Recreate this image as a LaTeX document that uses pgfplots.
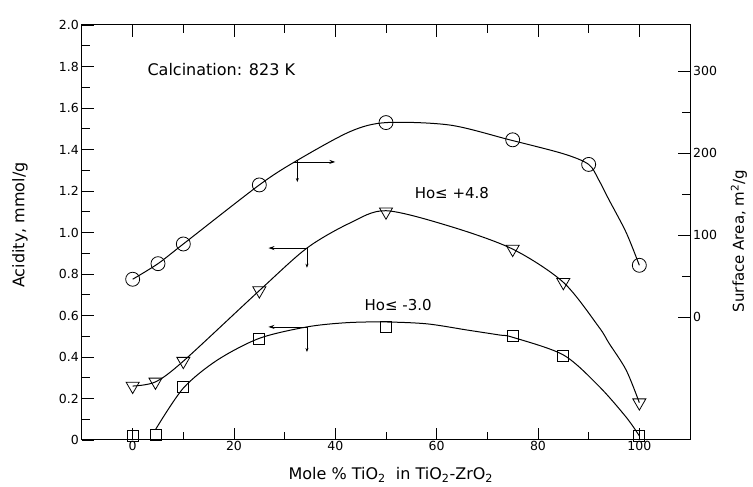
\documentclass[border=0pt]{standalone}
\usepackage{pgfplots}
\pgfplotsset{compat=1.18}
\usepackage{fontspec}
\setmainfont{DejaVu Sans}
\usetikzlibrary{arrows.meta}

% acidity (left axis)
\pgfplotstableread{
x y
0 0.26
4.5 0.28
10 0.38
25 0.72
50 1.10
75 0.92
85 0.76
100 0.18
}\triA
\pgfplotstableread{
x y
0 0.02
4.5 0.025
10 0.255
25 0.487
50 0.545
75 0.50
85 0.405
100 0.02
}\sqA
% surface area (right axis)
\pgfplotstableread{
x y
0 46
5 65
10 89
25 161
50 237
75 216
90 186
100 63
}\circS

\begin{document}
\begin{tikzpicture}[x=1pt,y=1pt]
\useasboundingbox (-82,-47) rectangle (671,440);
\begin{axis}[
  at={(0,0)}, anchor=south west,
  scale only axis, width=608pt, height=415pt,
  xmin=-10, xmax=110, ymin=0, ymax=2,
  xtick={0,20,...,100}, xticklabels={0,20,40,60,80,100},
  minor xtick={10,30,...,90},
  ytick={0,0.2,...,2.0},
  yticklabels={0,0.2,0.4,0.6,0.8,1.0,1.2,1.4,1.6,1.8,2.0},
  minor ytick={0.1,0.3,...,1.9},
  ytick pos=left, xtick pos=both, xticklabel pos=bottom,
  tick align=inside,
  major tick length=12pt, minor tick length=8pt,
  axis line style={line width=1pt},
  every tick/.style={line width=0.8pt, black},
  ticklabel style={font=\fontsize{12.5}{14}\selectfont},
  xticklabel style={inner sep=1pt},
  yticklabel style={inner sep=3pt},
  label style={font=\fontsize{16}{19}\selectfont},
  xlabel={Mole \% TiO\textsubscript{2}\ \ in TiO\textsubscript{2}-ZrO\textsubscript{2}},
  xlabel style={at={(axis description cs:0.508,-0.084)}, anchor=center},
  ylabel={Acidity, mmol/g},
  ylabel style={at={(axis description cs:-0.102,0.518)}, anchor=center},
]
% Ho <= +4.8
\addplot[smooth, line width=1pt, tension=0.5] coordinates {
  (0,0.26) (4.5,0.28) (10,0.38) (25,0.72) (34.4,0.925) (42.9,1.046)
  (50,1.105) (62.6,1.03) (75,0.92) (85,0.76) (92,0.545) (94,0.467)
  (97.4,0.337) (100,0.18)};
% Ho <= -3.0
\addplot[smooth, line width=1pt, tension=0.5] coordinates {
  (4.5,0.05) (10,0.25) (16.7,0.385) (25,0.49) (34.4,0.545) (42,0.565)
  (49.4,0.569) (58,0.56) (66,0.53) (72.4,0.506) (75,0.495) (85,0.41)
  (92,0.26) (97.4,0.11) (100,0.02)};
\addplot[only marks, mark=triangle, mark size=7.5pt,
  mark options={rotate=180, fill=white, line width=0.8pt}] table {\triA};
\addplot[only marks, mark=square, mark size=5.5pt,
  mark options={fill=white, line width=0.8pt}] table {\sqA};
% axis indicators
\draw[line width=0.8pt, -{Stealth[length=6pt,width=4pt]}] (axis cs:31.7,1.34) -- (axis cs:40,1.34);
\draw[line width=0.8pt, -{Stealth[length=4pt,width=3pt]}] (axis cs:32.5,1.35) -- (axis cs:32.5,1.243);
\draw[line width=0.8pt, -{Stealth[length=6pt,width=4pt]}] (axis cs:34.4,0.925) -- (axis cs:26.8,0.925);
\draw[line width=0.8pt, -{Stealth[length=4pt,width=3pt]}] (axis cs:34.4,0.925) -- (axis cs:34.4,0.83);
\draw[line width=0.8pt, -{Stealth[length=6pt,width=4pt]}] (axis cs:34.4,0.545) -- (axis cs:26.8,0.545);
\draw[line width=0.8pt, -{Stealth[length=4pt,width=3pt]}] (axis cs:34.4,0.545) -- (axis cs:34.4,0.424);
\node[font=\fontsize{16}{19}\selectfont] at (axis cs:17.5,1.783) {Calcination: 823 K};
\node[font=\fontsize{15}{18}\selectfont] at (axis cs:63,1.19) {Ho≤ +4.8};
\node[font=\fontsize{15}{18}\selectfont] at (axis cs:52.4,0.65) {Ho≤ -3.0};
\end{axis}
\begin{axis}[
  at={(0,0)}, anchor=south west,
  scale only axis, width=608pt, height=415pt,
  xmin=-10, xmax=110, ymin=-150, ymax=356,
  axis x line=none, axis y line*=right,
  ytick={0,100,200,300}, minor ytick={50,150,250},
  tick align=inside,
  major tick length=12pt, minor tick length=8pt,
  axis line style={line width=1pt},
  every tick/.style={line width=0.8pt, black},
  ticklabel style={font=\fontsize{12.5}{14}\selectfont},
  yticklabel style={inner sep=3pt},
  /pgf/number format/assume math mode=true,
  label style={font=\fontsize{15}{18}\selectfont},
  ylabel={Surface Area, m\textsuperscript{2}/g},
  ylabel style={at={(axis description cs:1.0805,0.4795)}, anchor=center, rotate=0},
]
\addplot[smooth, line width=1pt, tension=0.5] coordinates {
  (0,46) (5,65) (10,89) (25,161) (32.5,191) (42.9,226) (50,237)
  (62.6,234) (74.4,216) (85,199) (90,186) (92,167) (94,143) (97.4,103) (100,63)};
\addplot[only marks, mark=o, mark size=7pt,
  mark options={fill=white, line width=0.8pt}] table {\circS};
\end{axis}
\end{tikzpicture}
\end{document}
